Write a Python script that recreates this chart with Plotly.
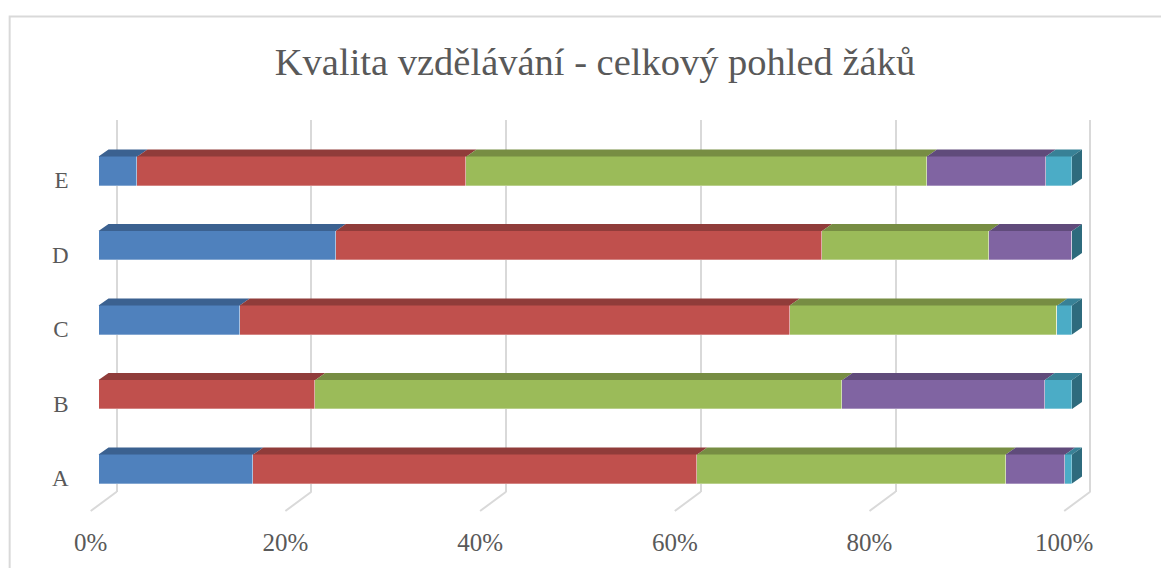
import plotly.graph_objects as go

# page body has an 8px margin, so the figure is drawn a bit smaller and
# all pixel targets below are taken from the screenshot minus that offset
OFF = 8
W, H = 1169 - OFF, 568 - OFF

categories = ["A", "B", "C", "D", "E"]
s1 = [15.9, 0.0, 14.5, 24.4, 4.0]
s2 = [45.6, 22.3, 56.5, 50.0, 33.8]
s3 = [31.7, 54.2, 27.5, 17.2, 47.3]
s4 = [6.1, 20.8, 0.0, 8.5, 12.2]
s5 = [0.7, 2.8, 1.5, 0.0, 2.7]
series_names = ["1", "2", "3", "4", "5"]
tick_vals = [0, 20, 40, 60, 80, 100]

front_colors = ["#4f81bd", "#c0504d", "#9bbb59", "#8064a2", "#4bacc6"]
top_colors = ["#3b6190", "#903c3a", "#778d43", "#604b7b", "#388196"]
side_color = "#2e6b7d"

series = [s1, s2, s3, s4, s5]

# normalise each row to 100 %
totals = [sum(s[i] for s in series) for i in range(len(categories))]
series = [[v / totals[i] * 100 for i, v in enumerate(s)] for s in series]

# geometry (pixels -> data units)
px_per_pct = 9.735
px_per_cat = 74.5
bar_w = 0.39
dx = 10 / px_per_pct
dy = 7 / px_per_cat

fig = go.Figure()

# gridlines subplot (back wall), drawn first
fig.add_trace(go.Scatter(x=[None], y=[None], xaxis="x", yaxis="y",
                         showlegend=False, hoverinfo="skip"))

ypos = list(range(len(categories)))

for name, vals, fc in zip(series_names, series, front_colors):
    fig.add_trace(go.Bar(
        y=ypos, x=vals, orientation="h", name=name,
        marker=dict(color=fc, line=dict(color="rgba(255,255,255,0.5)", width=0.6)),
        width=bar_w, xaxis="x2", yaxis="y2", showlegend=False
    ))

# top faces
cum = [0.0] * len(categories)
for vals, tc in zip(series, top_colors):
    xs, ys = [], []
    for i, v in enumerate(vals):
        x0 = cum[i]
        x1 = cum[i] + v
        cum[i] = x1
        if v <= 0:
            continue
        yt = ypos[i] + bar_w / 2
        xs += [x0, x1, x1 + dx, x0 + dx, x0, None]
        ys += [yt, yt, yt + dy, yt + dy, yt, None]
    fig.add_trace(go.Scatter(
        x=xs, y=ys, fill="toself", fillcolor=tc, mode="lines",
        line=dict(width=0, color=tc), xaxis="x2", yaxis="y2",
        showlegend=False, hoverinfo="skip"
    ))

# side faces at the end of each bar
xs, ys = [], []
for i in ypos:
    xe = cum[i]
    yb = i - bar_w / 2
    yt = i + bar_w / 2
    xs += [xe, xe, xe + dx, xe + dx, xe, None]
    ys += [yb, yt, yt + dy, yb + dy, yb, None]
fig.add_trace(go.Scatter(
    x=xs, y=ys, fill="toself", fillcolor=side_color, mode="lines",
    line=dict(width=0, color=side_color), xaxis="x2", yaxis="y2",
    showlegend=False, hoverinfo="skip"
))

# floor diagonals under the gridlines
floor_top = 491.7 - OFF
floor_bot = 511 - OFF
shapes = []
for v in tick_vals:
    shapes.append(dict(
        type="line", xref="x", yref="paper",
        x0=v, y0=(H - floor_top) / H,
        x1=v - 26 / px_per_pct, y1=(H - floor_bot) / H,
        line=dict(color="#d9d9d9", width=2), layer="below"
    ))
# chart border
shapes.append(dict(
    type="rect", xref="paper", yref="paper",
    x0=(8.5 - OFF) / W + 0.001, y0=-0.05, x1=1.05, y1=(H - (16.5 - OFF)) / H,
    line=dict(color="#d9d9d9", width=2), layer="below"
))

grid_left = 116.7 - OFF
bar_left = 98.5 - OFF
bar_a_center = 469 - OFF
span = W / px_per_pct

fig.update_layout(
    width=W, height=H,
    margin=dict(l=0, r=0, t=0, b=0),
    paper_bgcolor="white", plot_bgcolor="rgba(0,0,0,0)",
    barmode="stack", bargap=0,
    font=dict(family="Liberation Serif", color="#595959"),
    title=dict(
        text="Kvalita vzdělávání - celkový pohled žáků",
        x=(595 - OFF) / W, xanchor="center",
        y=1 - (62 - OFF) / H, yanchor="middle",
        font=dict(family="Liberation Serif", size=38.5, color="#595959")
    ),
    xaxis=dict(
        domain=[0, 1], anchor="y",
        range=[-grid_left / px_per_pct, -grid_left / px_per_pct + span],
        tickvals=tick_vals, ticktext=[f"{v}%" for v in tick_vals],
        showgrid=True, gridcolor="#d9d9d9", gridwidth=2,
        zeroline=False, showline=False, ticks="",
        ticklabelshift=-26, ticklabelstandoff=33,
        tickfont=dict(size=25, color="#595959"),
        fixedrange=True
    ),
    yaxis=dict(
        domain=[(H - floor_top) / H, (H - (120 - OFF)) / H], anchor="x",
        range=[0, 1], showgrid=False, zeroline=False,
        showticklabels=False, showline=False
    ),
    xaxis2=dict(
        domain=[0, 1], anchor="y2",
        range=[-bar_left / px_per_pct, -bar_left / px_per_pct + span],
        visible=False
    ),
    yaxis2=dict(
        domain=[0, 1], anchor="free", position=bar_left / W,
        range=[-(H - bar_a_center) / px_per_cat,
               -(H - bar_a_center) / px_per_cat + H / px_per_cat],
        tickvals=ypos, ticktext=categories,
        showgrid=False, zeroline=False, showline=False, ticks="",
        ticklabelstandoff=30, ticklabelshift=9,
        tickfont=dict(size=23, color="#595959")
    ),
    shapes=shapes,
    showlegend=False
)

fig.write_html("out.html")
